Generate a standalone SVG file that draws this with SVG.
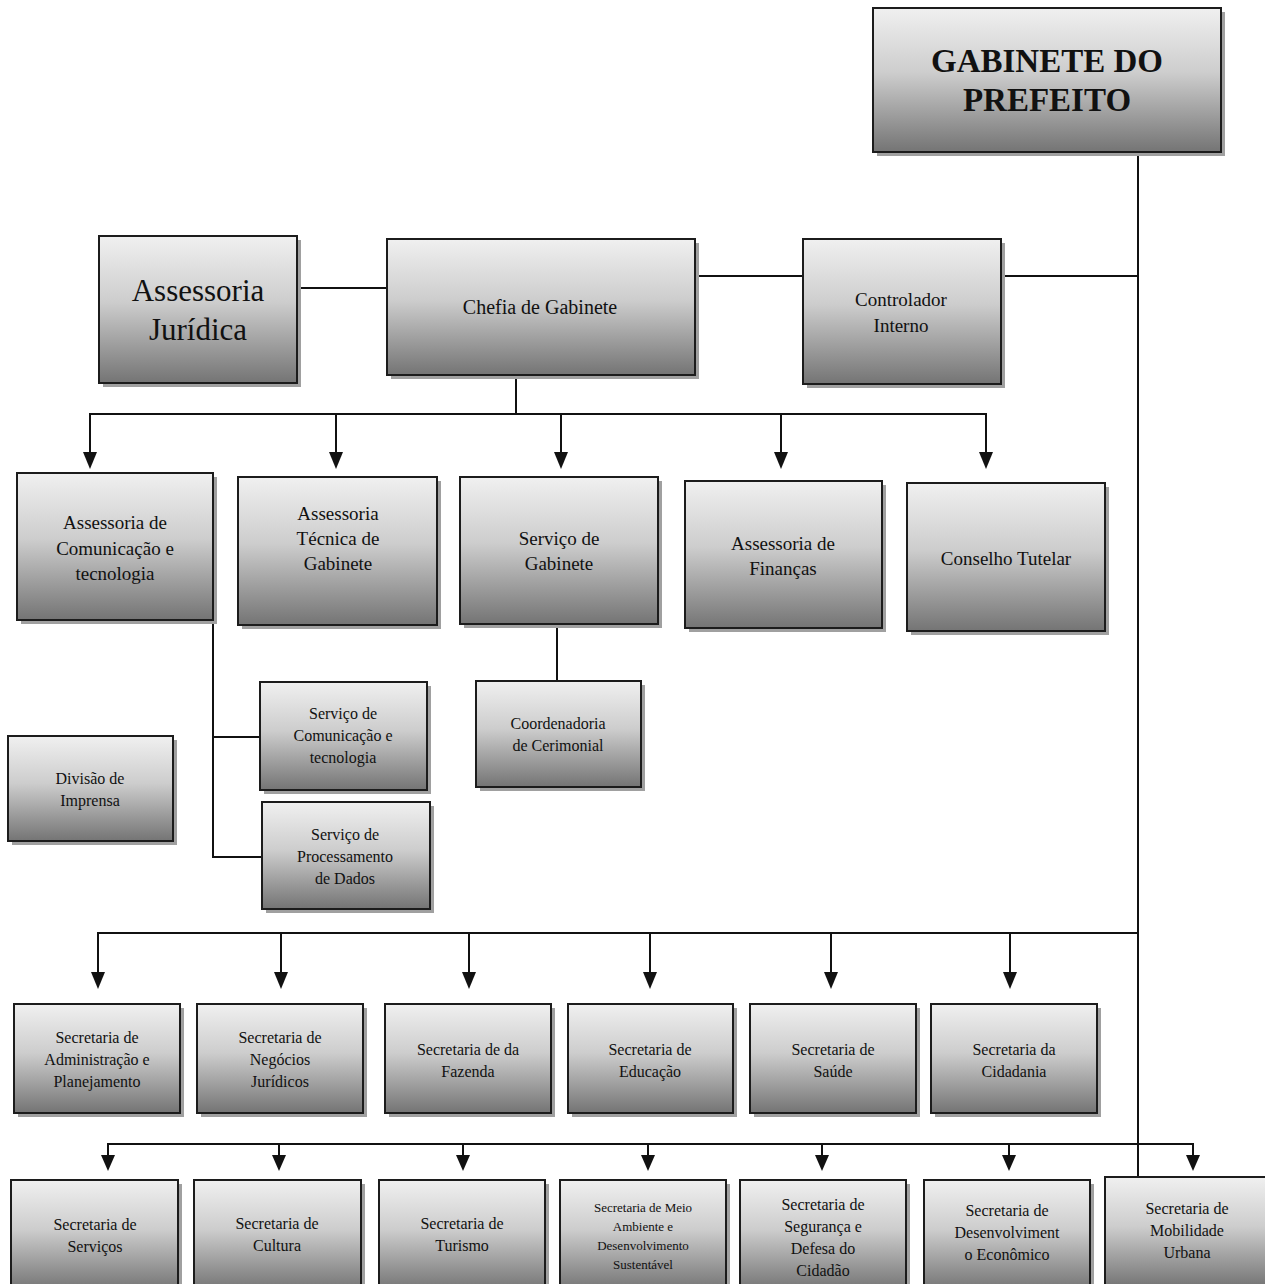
<svg xmlns="http://www.w3.org/2000/svg" width="1265" height="1284" viewBox="0 0 1265 1284">
<style>
.box{fill:url(#g);stroke:#1c1c1c;stroke-width:2}
.sh{fill:#a0a0a0}
.t{font-family:"Liberation Serif","Times New Roman",serif;fill:#111;text-anchor:middle}
.ln{stroke:#111;stroke-width:2;fill:none}
</style>
<defs>
<linearGradient id="g" x1="0" y1="0" x2="0" y2="1">
<stop offset="0" stop-color="#f0f0f0"/>
<stop offset="0.45" stop-color="#cdcdcd"/>
<stop offset="1" stop-color="#747474"/>
</linearGradient>
</defs>
<rect width="1265" height="1284" fill="#fff"/>

<g id="connectors">
<line class="ln" x1="1138" y1="152" x2="1138" y2="1177"/>
<line class="ln" x1="1001" y1="276" x2="1138" y2="276"/>
<line class="ln" x1="695" y1="276" x2="803" y2="276"/>
<line class="ln" x1="297" y1="288" x2="387" y2="288"/>
<line class="ln" x1="516" y1="375" x2="516" y2="414"/>
<line class="ln" x1="90" y1="414" x2="986" y2="414"/>
<line class="ln" x1="90" y1="413" x2="90" y2="452"/>
<line class="ln" x1="336" y1="414" x2="336" y2="452"/>
<line class="ln" x1="561" y1="414" x2="561" y2="452"/>
<line class="ln" x1="781" y1="414" x2="781" y2="452"/>
<line class="ln" x1="986" y1="413" x2="986" y2="452"/>
<g fill="#111">
<path d="M83,452 L97,452 L90,469 Z"/>
<path d="M329,452 L343,452 L336,469 Z"/>
<path d="M554,452 L568,452 L561,469 Z"/>
<path d="M774,452 L788,452 L781,469 Z"/>
<path d="M979,452 L993,452 L986,469 Z"/>
</g>
<line class="ln" x1="213" y1="620" x2="213" y2="858"/>
<line class="ln" x1="212" y1="737" x2="260" y2="737"/>
<line class="ln" x1="212" y1="857" x2="262" y2="857"/>
<line class="ln" x1="557" y1="624" x2="557" y2="681"/>
<line class="ln" x1="98" y1="933" x2="1138" y2="933"/>
<g>
<line class="ln" x1="98" y1="932" x2="98" y2="972"/>
<line class="ln" x1="281" y1="933" x2="281" y2="972"/>
<line class="ln" x1="469" y1="933" x2="469" y2="972"/>
<line class="ln" x1="650" y1="933" x2="650" y2="972"/>
<line class="ln" x1="831" y1="933" x2="831" y2="972"/>
<line class="ln" x1="1010" y1="933" x2="1010" y2="972"/>
</g>
<g fill="#111">
<path d="M91,972 L105,972 L98,989 Z"/>
<path d="M274,972 L288,972 L281,989 Z"/>
<path d="M462,972 L476,972 L469,989 Z"/>
<path d="M643,972 L657,972 L650,989 Z"/>
<path d="M824,972 L838,972 L831,989 Z"/>
<path d="M1003,972 L1017,972 L1010,989 Z"/>
</g>
<line class="ln" x1="108" y1="1144" x2="1193" y2="1144"/>
<g>
<line class="ln" x1="108" y1="1143" x2="108" y2="1156"/>
<line class="ln" x1="279" y1="1144" x2="279" y2="1156"/>
<line class="ln" x1="463" y1="1144" x2="463" y2="1156"/>
<line class="ln" x1="648" y1="1144" x2="648" y2="1156"/>
<line class="ln" x1="822" y1="1144" x2="822" y2="1156"/>
<line class="ln" x1="1009" y1="1144" x2="1009" y2="1156"/>
<line class="ln" x1="1193" y1="1143" x2="1193" y2="1156"/>
</g>
<g fill="#111">
<path d="M101,1155 L115,1155 L108,1171 Z"/>
<path d="M272,1155 L286,1155 L279,1171 Z"/>
<path d="M456,1155 L470,1155 L463,1171 Z"/>
<path d="M641,1155 L655,1155 L648,1171 Z"/>
<path d="M815,1155 L829,1155 L822,1171 Z"/>
<path d="M1002,1155 L1016,1155 L1009,1171 Z"/>
<path d="M1186,1155 L1200,1155 L1193,1171 Z"/>
</g>
</g>

<g id="gabinete">
<rect class="sh" x="877" y="12" width="348" height="144"/>
<rect class="box" x="873" y="8" width="348" height="144"/>
<text class="t" x="1047" y="72" font-size="33" font-weight="bold">GABINETE DO</text>
<text class="t" x="1047" y="111" font-size="33" font-weight="bold">PREFEITO</text>
</g>

<g id="assessoria-juridica">
<rect class="sh" x="103" y="240" width="198" height="147"/>
<rect class="box" x="99" y="236" width="198" height="147"/>
<text class="t" x="198" y="301" font-size="31">Assessoria</text>
<text class="t" x="198" y="340" font-size="31">Jurídica</text>
</g>

<g id="chefia">
<rect class="sh" x="391" y="243" width="308" height="136"/>
<rect class="box" x="387" y="239" width="308" height="136"/>
<text class="t" x="540" y="314" font-size="20">Chefia de Gabinete</text>
</g>

<g id="controlador">
<rect class="sh" x="807" y="243" width="198" height="145"/>
<rect class="box" x="803" y="239" width="198" height="145"/>
<text class="t" x="901" y="306" font-size="19">Controlador</text>
<text class="t" x="901" y="332" font-size="19">Interno</text>
</g>

<g id="ass-comunicacao">
<rect class="sh" x="21" y="477" width="196" height="147"/>
<rect class="box" x="17" y="473" width="196" height="147"/>
<text class="t" x="115" y="529" font-size="19">Assessoria de</text>
<text class="t" x="115" y="555" font-size="19">Comunicação e</text>
<text class="t" x="115" y="580" font-size="19">tecnologia</text>
</g>

<g id="ass-tecnica">
<rect class="sh" x="242" y="481" width="199" height="148"/>
<rect class="box" x="238" y="477" width="199" height="148"/>
<text class="t" x="338" y="520" font-size="19">Assessoria</text>
<text class="t" x="338" y="545" font-size="19">Técnica de</text>
<text class="t" x="338" y="570" font-size="19">Gabinete</text>
</g>

<g id="servico-gabinete">
<rect class="sh" x="464" y="481" width="198" height="147"/>
<rect class="box" x="460" y="477" width="198" height="147"/>
<text class="t" x="559" y="545" font-size="19">Serviço de</text>
<text class="t" x="559" y="570" font-size="19">Gabinete</text>
</g>

<g id="ass-financas">
<rect class="sh" x="689" y="485" width="197" height="147"/>
<rect class="box" x="685" y="481" width="197" height="147"/>
<text class="t" x="783" y="550" font-size="19">Assessoria de</text>
<text class="t" x="783" y="575" font-size="19">Finanças</text>
</g>

<g id="conselho-tutelar">
<rect class="sh" x="911" y="487" width="198" height="148"/>
<rect class="box" x="907" y="483" width="198" height="148"/>
<text class="t" x="1006" y="565" font-size="19">Conselho Tutelar</text>
</g>

<g id="servico-comunicacao">
<rect class="sh" x="264" y="686" width="167" height="108"/>
<rect class="box" x="260" y="682" width="167" height="108"/>
<text class="t" x="343" y="719" font-size="16">Serviço de</text>
<text class="t" x="343" y="741" font-size="16">Comunicação e</text>
<text class="t" x="343" y="763" font-size="16">tecnologia</text>
</g>

<g id="servico-processamento">
<rect class="sh" x="266" y="806" width="168" height="107"/>
<rect class="box" x="262" y="802" width="168" height="107"/>
<text class="t" x="345" y="840" font-size="16">Serviço de</text>
<text class="t" x="345" y="862" font-size="16">Processamento</text>
<text class="t" x="345" y="884" font-size="16">de Dados</text>
</g>

<g id="divisao-imprensa">
<rect class="sh" x="12" y="740" width="165" height="105"/>
<rect class="box" x="8" y="736" width="165" height="105"/>
<text class="t" x="90" y="784" font-size="16">Divisão de</text>
<text class="t" x="90" y="806" font-size="16">Imprensa</text>
</g>

<g id="coordenadoria">
<rect class="sh" x="480" y="685" width="165" height="106"/>
<rect class="box" x="476" y="681" width="165" height="106"/>
<text class="t" x="558" y="729" font-size="16">Coordenadoria</text>
<text class="t" x="558" y="751" font-size="16">de Cerimonial</text>
</g>

<g id="sec-administracao">
<rect class="sh" x="18" y="1008" width="166" height="109"/>
<rect class="box" x="14" y="1004" width="166" height="109"/>
<text class="t" x="97" y="1043" font-size="16">Secretaria de</text>
<text class="t" x="97" y="1065" font-size="16">Administração e</text>
<text class="t" x="97" y="1087" font-size="16">Planejamento</text>
</g>

<g id="sec-negocios">
<rect class="sh" x="201" y="1008" width="166" height="109"/>
<rect class="box" x="197" y="1004" width="166" height="109"/>
<text class="t" x="280" y="1043" font-size="16">Secretaria de</text>
<text class="t" x="280" y="1065" font-size="16">Negócios</text>
<text class="t" x="280" y="1087" font-size="16">Jurídicos</text>
</g>

<g id="sec-fazenda">
<rect class="sh" x="389" y="1008" width="166" height="109"/>
<rect class="box" x="385" y="1004" width="166" height="109"/>
<text class="t" x="468" y="1055" font-size="16">Secretaria de da</text>
<text class="t" x="468" y="1077" font-size="16">Fazenda</text>
</g>

<g id="sec-educacao">
<rect class="sh" x="572" y="1008" width="165" height="109"/>
<rect class="box" x="568" y="1004" width="165" height="109"/>
<text class="t" x="650" y="1055" font-size="16">Secretaria de</text>
<text class="t" x="650" y="1077" font-size="16">Educação</text>
</g>

<g id="sec-saude">
<rect class="sh" x="754" y="1008" width="166" height="109"/>
<rect class="box" x="750" y="1004" width="166" height="109"/>
<text class="t" x="833" y="1055" font-size="16">Secretaria de</text>
<text class="t" x="833" y="1077" font-size="16">Saúde</text>
</g>

<g id="sec-cidadania">
<rect class="sh" x="935" y="1008" width="166" height="109"/>
<rect class="box" x="931" y="1004" width="166" height="109"/>
<text class="t" x="1014" y="1055" font-size="16">Secretaria da</text>
<text class="t" x="1014" y="1077" font-size="16">Cidadania</text>
</g>

<g id="sec-servicos">
<rect class="sh" x="15" y="1184" width="167" height="110"/>
<rect class="box" x="11" y="1180" width="167" height="110"/>
<text class="t" x="95" y="1230" font-size="16">Secretaria de</text>
<text class="t" x="95" y="1252" font-size="16">Serviços</text>
</g>

<g id="sec-cultura">
<rect class="sh" x="198" y="1184" width="167" height="110"/>
<rect class="box" x="194" y="1180" width="167" height="110"/>
<text class="t" x="277" y="1229" font-size="16">Secretaria de</text>
<text class="t" x="277" y="1251" font-size="16">Cultura</text>
</g>

<g id="sec-turismo">
<rect class="sh" x="383" y="1184" width="166" height="110"/>
<rect class="box" x="379" y="1180" width="166" height="110"/>
<text class="t" x="462" y="1229" font-size="16">Secretaria de</text>
<text class="t" x="462" y="1251" font-size="16">Turismo</text>
</g>

<g id="sec-meio-ambiente">
<rect class="sh" x="564" y="1184" width="166" height="110"/>
<rect class="box" x="560" y="1180" width="166" height="110"/>
<text class="t" x="643" y="1212" font-size="13">Secretaria de Meio</text>
<text class="t" x="643" y="1231" font-size="13">Ambiente e</text>
<text class="t" x="643" y="1250" font-size="13">Desenvolvimento</text>
<text class="t" x="643" y="1269" font-size="13">Sustentável</text>
</g>

<g id="sec-seguranca">
<rect class="sh" x="744" y="1184" width="166" height="110"/>
<rect class="box" x="740" y="1180" width="166" height="110"/>
<text class="t" x="823" y="1210" font-size="16">Secretaria de</text>
<text class="t" x="823" y="1232" font-size="16">Segurança e</text>
<text class="t" x="823" y="1254" font-size="16">Defesa do</text>
<text class="t" x="823" y="1276" font-size="16">Cidadão</text>
</g>

<g id="sec-desenvolvimento">
<rect class="sh" x="928" y="1184" width="166" height="110"/>
<rect class="box" x="924" y="1180" width="166" height="110"/>
<text class="t" x="1007" y="1216" font-size="16">Secretaria de</text>
<text class="t" x="1007" y="1238" font-size="16">Desenvolviment</text>
<text class="t" x="1007" y="1260" font-size="16">o Econômico</text>
</g>

<g id="sec-mobilidade">
<rect class="sh" x="1109" y="1181" width="166" height="110"/>
<rect class="box" x="1105" y="1177" width="166" height="110"/>
<text class="t" x="1187" y="1214" font-size="16">Secretaria de</text>
<text class="t" x="1187" y="1236" font-size="16">Mobilidade</text>
<text class="t" x="1187" y="1258" font-size="16">Urbana</text>
</g>
</svg>
